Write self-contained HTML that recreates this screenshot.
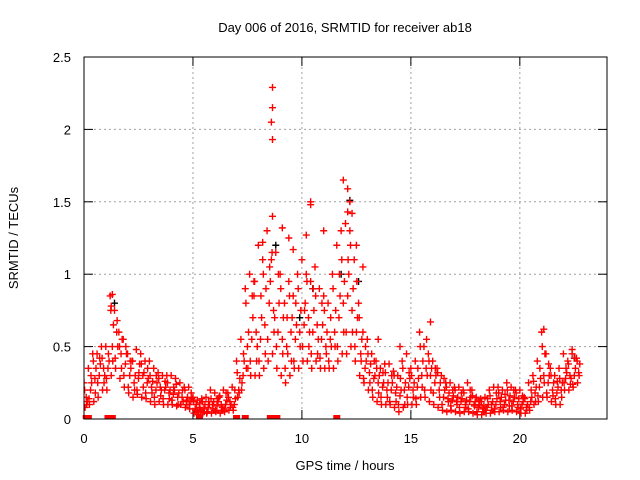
<!DOCTYPE html>
<html><head><meta charset="utf-8"><style>
body{margin:0;background:#fff}
svg{display:block;font-family:"Liberation Sans",sans-serif;font-size:13px}
</style></head><body>
<svg id="chart" width="640" height="480" viewBox="0 0 640 480">
<defs><clipPath id="pc"><rect x="84" y="50" width="523" height="369"/></clipPath></defs>
<text x="345" y="32" text-anchor="middle">Day 006 of 2016, SRMTID for receiver ab18</text>
<text transform="translate(18,238) rotate(-90)" text-anchor="middle">SRMTID / TECUs</text>
<text x="345" y="470" text-anchor="middle">GPS time / hours</text>
<g id="grid"></g>
<g id="ticks"></g>
<g id="marks" clip-path="url(#pc)"></g>
<g id="zeros"></g>
<rect x="84" y="57" width="523" height="362" fill="none" stroke="#000" stroke-width="1"/>
</svg>
<script>
const xTicks=[0,5,10,15,20];
const yTicks=[0,0.5,1,1.5,2,2.5];
const yTickLabels=["0","0.5","1","1.5","2","2.5"];
const step=0.2;
const loVals=[.08,.1,.12,.15,.2, .2,.3,.35,.28,.22, .18,.15,.17,.15,.14, .12,.1,.12,.1,.1, .1,.09,.1,.08,.07, .04,.03,.04,.05,.04, .05,.04,.05,.06,.06, .15,.25,.35,.3,.3, .3,.35,.4,.45,.35, .3,.25,.3,.35,.35, .4,.4,.35,.4,.35, .35,.35,.35,.4,.45, .45,.5,.4,.3,.25, .2,.15,.12,.1,.1, .1,.08,.05,.08,.1, .1,.1,.15,.15,.12, .1,.08,.06,.05,.06, .05,.04,.05,.05,.04, .03,.03,.04,.04,.05, .05,.06,.05,.06,.05, .04,.04,.06,.1,.12, .15,.15,.12,.1,.1, .2,.2,.22,.25];
const mid1Vals=[.15,.2,.28,.3,.35, .35,.5,.6,.45,.38, .3,.25,.28,.3,.25, .22,.2,.22,.2,.18, .17,.15,.15,.13,.12, .07,.08,.07,.08,.1, .09,.1,.1,.12,.1, .2,.3,.5,.55,.6, .55,.65,.8,.75,.6, .55,.5,.6,.55,.6, .65,.7,.6,.65,.55, .5,.55,.6,.7,.8, .85,.75,.6,.45,.35, .32,.28,.25,.22,.2, .2,.18,.16,.2,.22, .2,.22,.3,.35,.3, .25,.2,.15,.14,.13, .12,.12,.1,.12,.1, .08,.07,.08,.1,.1, .12,.1,.13,.12,.1, .1,.08,.12,.18,.22, .3,.25,.2,.18,.2, .28,.3,.3,.32];
const mid2Vals=[.12,.25,.35,.38,.3, .4,.65,.5,.55,.45, .35,.3,.38,.32,.28, .26,.25,.2,.22,.2, .2,.18,.12,.15,.14, .1,.06,.1,.1,.12, .12,.08,.13,.1,.14, .28,.4,.6,.7,.5, .7,.9,.95,.7,.8, .7,.45,.7,.65,.75, .8,.6,.75,.55,.65, .6,.5,.75,.85,.95, 1.0,.9,.7,.55,.4, .38,.3,.3,.25,.25, .25,.22,.2,.25,.28, .25,.28,.4,.3,.35, .3,.25,.2,.18,.16, .15,.14,.13,.15,.12, .1,.09,.1,.12,.14, .15,.13,.16,.15,.14, .12,.1,.15,.22,.28, .45,.3,.25,.22,.25, .32,.28,.35,.38];
const hiVals=[.25,.35,.45,.45,.5, .5,.85,.75,.6,.55, .45,.4,.48,.45,.4, .4,.35,.32,.3,.3, .3,.28,.25,.22,.22, .15,.13,.14,.15,.2, .18,.15,.2,.18,.22, .4,.55,.9,1.0,.85, 1.2,1.1,1.3,1.1,1.15, 1.0,.8,.95,.85,1.0, 1.1,1.0,.95,1.05,.9, .85,.8,1.0,1.2,1.3, 1.35,1.3,1.1,.8,.6, .55,.45,.4,.35,.38, .38,.33,.3,.4,.45, .35,.4,.6,.5,.45, .4,.35,.3,.25,.25, .22,.22,.2,.25,.2, .15,.14,.15,.2,.22, .22,.2,.25,.22,.2, .2,.15,.25,.3,.4, .6,.45,.35,.3,.35, .45,.4,.45,.42];
const scatAVals=[.2,.14,.4,.25,.42, .28,.75,.42,.5,.3, .22,.4,.2,.38,.18, .3,.15,.28,.14,.25, .13,.24,.1,.2,.1, .12,.05,.12,.04,.14, .06,.16,.07,.15,.08, .32,.2,.8,.4,.95, .4,1.0,.55,1.15,.5, .9,.35,.85,.4,.9, .5,.95,.45,.85,.42, .75,.4,.9,.5,1.1, .6,1.2,.5,.7,.28, .45,.2,.35,.15,.32, .12,.3,.1,.35,.15, .3,.14,.5,.2,.4, .18,.32,.1,.22,.09, .2,.08,.18,.07,.16, .05,.12,.06,.16,.07, .18,.08,.2,.09,.18, .07,.14,.08,.26,.16, .5,.18,.3,.14,.28, .25,.38,.24,.4];
const scatBVals=[.1,.3,.18,.42,.25, .45,.4,.68,.35,.5, .4,.2,.32,.22,.35, .18,.3,.16,.26,.14, .22,.1,.2,.1,.18, .06,.11,.05,.12,.07, .14,.06,.18,.08,.2, .18,.45,.35,.85,.4, .85,.45,1.05,.6,1.0, .45,.7,.4,.8,.5, .75,.5,.9,.45,.8, .45,.7,.5,1.0,.6, 1.1,.6,.95,.4,.5, .25,.4,.18,.32,.15, .3,.12,.28,.1,.32, .15,.35,.22,.55,.2, .35,.15,.28,.12,.2, .1,.18,.08,.2,.09, .13,.05,.14,.06,.18, .08,.17,.09,.2,.08, .16,.06,.2,.12,.35, .25,.38,.16,.26,.15, .35,.24,.42,.3];
const outT=[8.65,8.65,8.6,8.65,8.65,11.9,12.1,12.2,12.1,12.3,10.4,10.4,8.2,9.4,11,10.2,12.8,15.9,21.1,22.4,14.5,13.5,9.1,9.6,12.5,7.8,1.3,1.25];
const outV=[2.29,2.15,2.05,1.93,1.4,1.65,1.59,1.5,1.43,1.42,1.5,1.48,1.22,1.25,1.3,1.27,1.05,.67,.62,.48,.5,.55,1.32,1.17,1.2,.95,.86,.78];
const blackT=[12.2,8.8,10.5,11.8,1.4,22.5,12.6,9.9];
const blackV=[1.51,1.2,.9,1.0,.8,.42,.95,.7];
const zeroT=[0.1,0.2,1.1,1.3,5.3,7.0,7.4,8.55,8.75,8.85,11.6];

const X=t=>84+t*(523/24);
const Y=v=>419-v*(362/2.5);
const NS='http://www.w3.org/2000/svg';
const grid=document.getElementById('grid'),ticks=document.getElementById('ticks'),marks=document.getElementById('marks'),zeros=document.getElementById('zeros');
function line(g,x1,y1,x2,y2,st,da){const l=document.createElementNS(NS,'line');l.setAttribute('x1',x1);l.setAttribute('y1',y1);l.setAttribute('x2',x2);l.setAttribute('y2',y2);l.setAttribute('stroke',st);if(da)l.setAttribute('stroke-dasharray',da);g.appendChild(l);return l;}
yTicks.forEach((v,i)=>{const y=Y(v);
 if(i>0&&i<yTicks.length-1){const gl=line(grid,84,y,607,y,'#a0a0a0','2,3');
 
 }
 line(ticks,84,y,93,y,'#000');line(ticks,607,y,598,y,'#000');
 const t=document.createElementNS(NS,'text');t.setAttribute('x',71);t.setAttribute('y',y+5);t.setAttribute('text-anchor','end');t.textContent=yTickLabels[i];
 
 
 ticks.appendChild(t);});
xTicks.forEach(v=>{const x=X(v);
 if(v>0){const gl=line(grid,x,57,x,419,'#a0a0a0','2,3');
 
 }
 line(ticks,x,419,x,410,'#000');line(ticks,x,57,x,66,'#000');
 const t=document.createElementNS(NS,'text');t.setAttribute('x',x);t.setAttribute('y',443);t.setAttribute('text-anchor','middle');t.textContent=String(v);
 
 
 ticks.appendChild(t);});
function cross(t,v,col,name){const x=X(t),y=Y(v);const p=document.createElementNS(NS,'path');
 p.setAttribute('d',`M${x-3.5},${y}h7M${x},${y-3.5}v7`);p.setAttribute('stroke',col);p.setAttribute('stroke-width','1.4');
 
 
 marks.appendChild(p);}
blackT.forEach((t,i)=>cross(t,blackV[i],'#000','black-point'));
[[loVals,0.05],[mid1Vals,0.1],[mid2Vals,0.15],[hiVals,0],[scatAVals,0.03],[scatBVals,0.12]].forEach(([arr,off])=>{
 arr.forEach((v,i)=>cross(i*step+off,v,'#f00','red-point'));});
outT.forEach((t,i)=>cross(t,outV[i],'#f00','red-point'));
zeroT.forEach(t=>{const r=document.createElementNS(NS,'rect');r.setAttribute('x',X(t)-3.5);r.setAttribute('y',415);r.setAttribute('width',7);r.setAttribute('height',4);r.setAttribute('fill','#f00');
 
 
 zeros.appendChild(r);});
</script>
</body></html>
